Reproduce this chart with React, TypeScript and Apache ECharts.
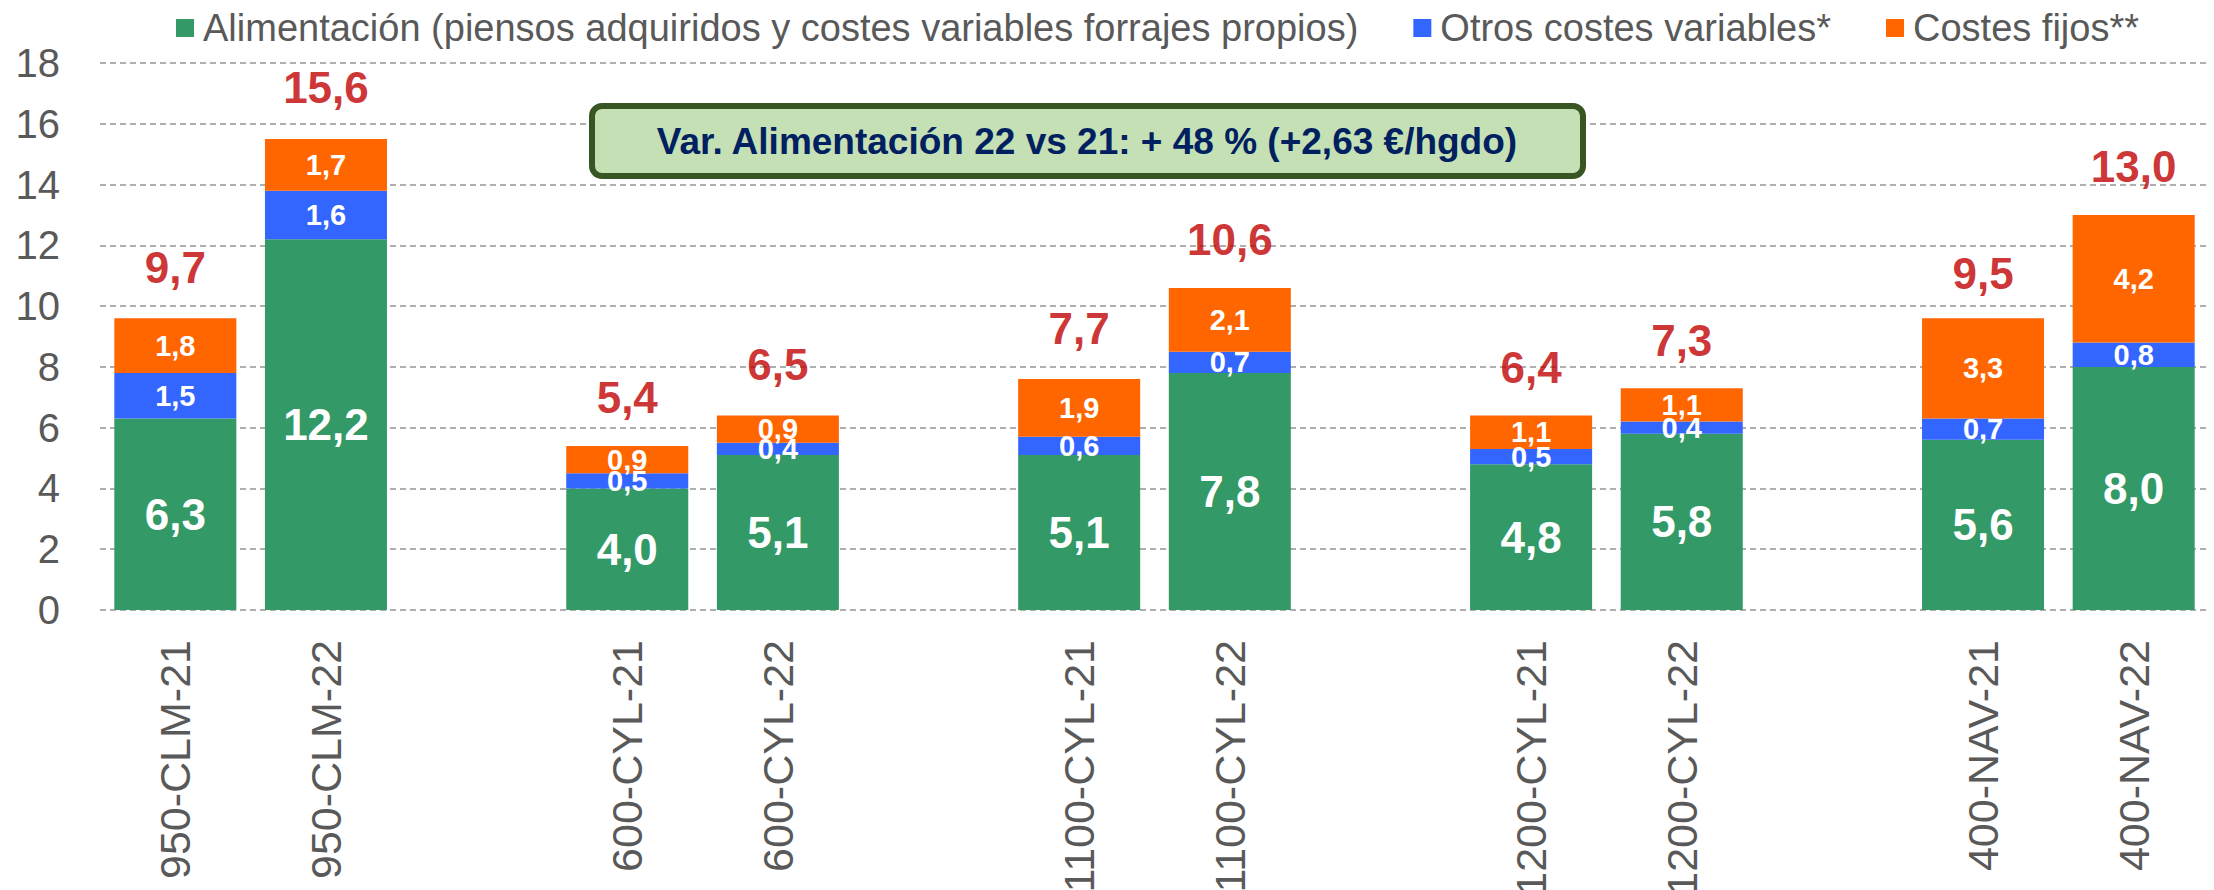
import React, { useEffect, useRef } from "react";
import * as echarts from "echarts";

const categories = [
  "950-CLM-21", "950-CLM-22", "",
  "600-CYL-21", "600-CYL-22", "",
  "1100-CYL-21", "1100-CYL-22", "",
  "1200-CYL-21", "1200-CYL-22", "",
  "400-NAV-21", "400-NAV-22",
];
const alimentacion = [6.3, 12.2, "-", 4.0, 5.1, "-", 5.1, 7.8, "-", 4.8, 5.8, "-", 5.6, 8.0];
const otrosVariables = [1.5, 1.6, "-", 0.5, 0.4, "-", 0.6, 0.7, "-", 0.5, 0.4, "-", 0.7, 0.8];
const costesFijos = [1.8, 1.7, "-", 0.9, 0.9, "-", 1.9, 2.1, "-", 1.1, 1.1, "-", 3.3, 4.2];
const totales = [9.7, 15.6, "-", 5.4, 6.5, "-", 7.7, 10.6, "-", 6.4, 7.3, "-", 9.5, 13.0];
const yTicks = { min: 0, max: 18, interval: 2 };
const seriesNames = [
  "Alimentación (piensos adquiridos y costes variables forrajes propios)",
  "Otros costes variables*",
  "Costes fijos**",
];
const annotation = "Var. Alimentación 22 vs 21: + 48 % (+2,63 €/hgdo)";

const FONT = "'Liberation Sans', Arial, sans-serif";
const fmt = (v: any) => {
  const n = typeof v === "number" ? v : Number(v?.value ?? v);
  return isNaN(n) ? "" : n.toFixed(1).replace(".", ",");
};

export default function App() {
  const ref = useRef<HTMLDivElement>(null);
  useEffect(() => {
    if (!ref.current) return;
    const chart = echarts.init(ref.current, null, { renderer: "svg" });
    const segLabel = (size: number) => ({
      show: true,
      position: "inside",
      color: "#FFFFFF",
      fontWeight: "bold",
      fontSize: size,
      fontFamily: FONT,
      formatter: (p: any) => fmt(p.value),
    });
    chart.setOption({
      animation: false,
      backgroundColor: "#FFFFFF",
      legend: {
        data: seriesNames,
        left: 171,
        top: 4,
        itemWidth: 18,
        itemHeight: 18,
        itemGap: 55,
        icon: "rect",
        textStyle: { fontSize: 38, color: "#595959", fontFamily: FONT, padding: [0, 0, 0, 4] },
      },
      grid: {
        left: 100,
        right: 5,
        top: 63,
        bottom: 280,
        containLabel: false,
        outerBoundsMode: "none",
      },
      xAxis: {
        type: "category",
        data: categories,
        axisLine: { show: false },
        axisTick: { show: false },
        axisLabel: {
          rotate: 90,
          interval: 0,
          margin: 30,
          fontSize: 43,
          color: "#595959",
          fontFamily: FONT,
        },
      },
      yAxis: {
        type: "value",
        min: yTicks.min,
        max: yTicks.max,
        interval: yTicks.interval,
        axisLine: { show: false },
        axisTick: { show: false },
        axisLabel: { fontSize: 40, color: "#595959", margin: 40, fontFamily: FONT },
        splitLine: { lineStyle: { color: "#AEAEAE", width: 2, type: [6, 4] } },
      },
      series: [
        {
          name: seriesNames[0],
          type: "bar",
          stack: "total",
          barWidth: "81%",
          data: alimentacion,
          itemStyle: { color: "#339966" },
          label: segLabel(44),
        },
        {
          name: seriesNames[1],
          type: "bar",
          stack: "total",
          data: otrosVariables,
          itemStyle: { color: "#3366FF" },
          label: segLabel(29),
        },
        {
          name: seriesNames[2],
          type: "bar",
          stack: "total",
          data: costesFijos,
          itemStyle: { color: "#FF6600" },
          label: segLabel(29),
        },
        {
          name: "Total",
          type: "scatter",
          data: totales,
          symbol: "circle",
          symbolSize: 2,
          itemStyle: { color: "rgba(0,0,0,0)" },
          emphasis: { disabled: true },
          label: {
            show: true,
            position: "top",
            distance: 25,
            color: "#C00000",
            fontWeight: "bold",
            fontSize: 44,
            fontFamily: FONT,
            formatter: (p: any) => fmt(p.value),
          },
          z: 5,
        },
      ],
      graphic: [
        {
          type: "rect",
          shape: { x: 592, y: 106, width: 991, height: 70, r: 10 },
          style: { fill: "#C5E0B4", stroke: "#375623", lineWidth: 6 },
          z: 10,
        },
        {
          type: "text",
          x: 1087,
          y: 141,
          style: {
            text: annotation,
            fill: "#002060",
            font: `bold 37px ${FONT}`,
            align: "center",
            verticalAlign: "middle",
          },
          z: 11,
        },
      ],
    });
    return () => chart.dispose();
  }, []);
  return (
    <div
      ref={ref}
      style={{ position: "fixed", left: 0, top: 0, width: 2214, height: 890, background: "#fff" }}
    />
  );
}
